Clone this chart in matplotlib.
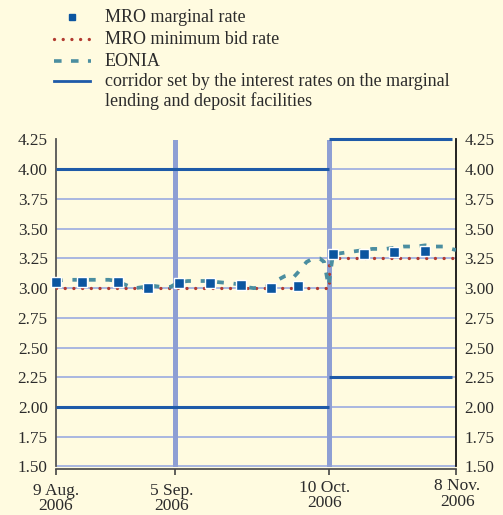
import matplotlib
matplotlib.use("Agg")
import matplotlib.pyplot as plt
from matplotlib.lines import Line2D
from matplotlib.transforms import blended_transform_factory

# ---- data (x = days since 9 Aug 2006) ----
mro_days = [0, 6, 14, 21, 28, 35, 42, 49, 55, 63, 70, 77, 84]
mro_marginal = [3.05, 3.05, 3.05, 3.00, 3.04, 3.04, 3.03, 3.00, 3.02, 3.29, 3.29, 3.30, 3.31]

minbid_days = [0, 62, 91]
minbid_rate = [3.00, 3.25, 3.25]

eonia_days = [0, 2, 5, 8, 12, 14, 15, 17, 18, 20, 21, 22, 24, 26, 27, 28, 30, 33, 35, 37,
              40, 42, 43, 45, 47, 49, 50, 51, 52, 53, 54, 55, 57, 58, 59, 60, 61, 62, 63,
              64, 66, 68, 70, 72, 75, 77, 79, 82, 84, 86, 88, 90, 91]
eonia_rate = [3.06, 3.07, 3.07, 3.07, 3.07, 3.06, 3.04, 3.01, 3.00, 3.01, 3.03, 3.02, 3.01, 3.01,
              3.03, 3.05, 3.06, 3.06, 3.06, 3.05, 3.04, 3.03, 3.01, 3.00, 3.01, 3.02, 3.06,
              3.08, 3.10, 3.11, 3.09, 3.13, 3.22, 3.24, 3.25, 3.25, 3.22, 3.02, 3.28,
              3.29, 3.30, 3.31, 3.32, 3.33, 3.33, 3.34, 3.35, 3.35, 3.36, 3.35, 3.35, 3.33, 3.32]

corridor_start = [0, 62]
corridor_end = [62, 90]
corridor_upper = [4.00, 4.25]
corridor_lower = [2.00, 2.25]

period_starts = [27, 62]

xtick_days = [0, 27, 62, 91]
xtick_labels = ["9 Aug.\n2006", "5 Sep.\n2006", "10 Oct.\n2006", "8 Nov.\n2006"]
yticks = [1.50, 1.75, 2.00, 2.25, 2.50, 2.75, 3.00, 3.25, 3.50, 3.75, 4.00, 4.25]

legend_labels = ["MRO marginal rate", "MRO minimum bid rate", "EONIA",
                 "corridor set by the interest rates on the marginal\nlending and deposit facilities"]

# ---- style ----
BG = "#fffbe0"
TXT = "#2b2b2b"
GRID = "#a3b1e0"
VLINE = "#8e9fd4"
CORR = "#1e5aa8"
MARK = "#0b55a0"
RED = "#b23a30"
TEAL = "#4b8ea0"

plt.rcParams["font.family"] = ["Liberation Serif", "DejaVu Serif"]

W, H = 503, 515
fig = plt.figure(figsize=(W / 100, H / 100), dpi=100, facecolor=BG)

ax = fig.add_axes([56 / W, 1 - 466.5 / H, 400 / W, (466.5 - 139.5) / H])
ax.set_facecolor(BG)
ax.set_xlim(0, 91)
ax.set_ylim(1.50, 4.25)

for y in yticks:
    ax.axhline(y, color=GRID, lw=1.3, zorder=1)
for d in period_starts:
    ax.axvline(d, color=VLINE, lw=3.6, zorder=2)

ax.hlines(corridor_upper, corridor_start, corridor_end, color=CORR, lw=2.2, zorder=3,
          clip_on=False)
ax.hlines(corridor_lower, corridor_start, corridor_end, color=CORR, lw=2.2, zorder=3,
          clip_on=False)

ax.plot(minbid_days, minbid_rate, drawstyle="steps-post", color=RED, lw=2.4,
        linestyle=(0, (0.01, 2.6)), dash_capstyle="round", zorder=4)
ax.plot(eonia_days, eonia_rate, color=TEAL, lw=2.7, linestyle=(0, (1.8, 2.6)), zorder=5)
ax.plot(mro_days, mro_marginal, linestyle="none", marker="s", markersize=7,
        markerfacecolor=MARK, markeredgecolor="white", markeredgewidth=1.0, zorder=6,
        clip_on=False)

ax.set_yticks(yticks)
ax.set_yticklabels([f"{v:.2f}" for v in yticks])
ax.tick_params(axis="y", which="both", length=0, labelsize=12.3, colors=TXT,
               left=True, right=True, labelleft=True, labelright=True, pad=6)
ax.set_xticks(xtick_days)
ax.set_xticklabels([])
ax.tick_params(axis="x", length=4, width=1.2, color="#444444", direction="out")

ax.spines["top"].set_visible(False)
ax.spines["left"].set_color("#555555")
ax.spines["left"].set_linewidth(1.3)
ax.spines["right"].set_color("#111111")
ax.spines["right"].set_linewidth(1.3)
ax.spines["bottom"].set_color("#444444")
ax.spines["bottom"].set_linewidth(1.2)
ax.spines["bottom"].set_position(("outward", 2))

trans = blended_transform_factory(ax.transData, fig.transFigure)
label_bottom = [514, 514, 511, 509.5]
x_shift = [0.0, -0.7, -0.8, 0.3]
for d, lab, pb, dx in zip(xtick_days, xtick_labels, label_bottom, x_shift):
    ax.text(d + dx, 1 - pb / H, lab, transform=trans, ha="center", va="bottom",
            fontsize=12.5, color=TXT, clip_on=False, linespacing=0.92,
            multialignment="center")

# ---- legend (pixel coordinates) ----
lg = fig.add_axes([0, 0, 1, 1], facecolor="none")
lg.set_xlim(0, W)
lg.set_ylim(H, 0)
lg.axis("off")
lg.set_zorder(-1)
rows = [17, 39, 61, 81]
lg.add_line(Line2D([72], [rows[0]], linestyle="none", marker="s", markersize=4.5,
                   markerfacecolor=MARK, markeredgecolor=MARK))
lg.add_line(Line2D([54, 90], [rows[1]] * 2, color=RED, lw=2.4,
                   linestyle=(0, (0.01, 2.6)), dash_capstyle="round"))
lg.add_line(Line2D([54, 91], [rows[2]] * 2, color=TEAL, lw=2.6, linestyle=(0, (2.1, 2.6))))
lg.add_line(Line2D([54, 90], [rows[3]] * 2, color=CORR, lw=2.0))
for r, lab in zip(rows, legend_labels):
    lg.text(105, r - 8.5, lab, ha="left", va="top", fontsize=13, color=TXT,
            linespacing=1.18)

fig.savefig("out.png", dpi=100, facecolor=BG)
